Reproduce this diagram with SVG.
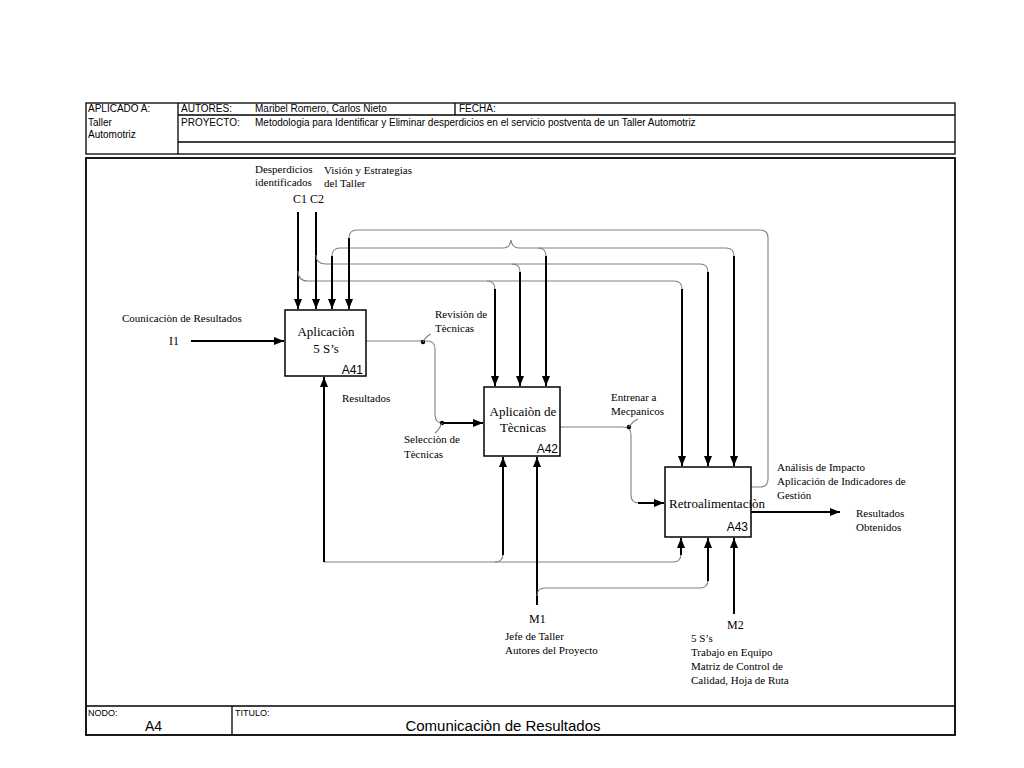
<svg xmlns="http://www.w3.org/2000/svg" width="1024" height="768" viewBox="0 0 1024 768">
<style>
.frame{fill:none;stroke:#000;stroke-width:1.3}
.box{fill:#fff;stroke:#000;stroke-width:1.5}
.hd{font-family:"Liberation Sans",Arial,sans-serif;font-size:10px;fill:#000}
.lbl{font-family:"Liberation Serif","Times New Roman",serif;font-size:11px;fill:#000}
.bt{font-family:"Liberation Serif","Times New Roman",serif;font-size:13px;fill:#000;text-anchor:middle}
.id{font-family:"Liberation Sans",Arial,sans-serif;font-size:12px;fill:#000;text-anchor:end}
.g{fill:none;stroke:#808080;stroke-width:1.1}
.kt{fill:none;stroke:#000;stroke-width:2;marker-end:url(#ah)}
</style>
<defs>
<marker id="ah" markerUnits="userSpaceOnUse" markerWidth="10" markerHeight="10" refX="10" refY="5" orient="auto">
<path d="M0,1 L10,5 L0,9 z" fill="#000"/>
</marker>
</defs>
<rect width="1024" height="768" fill="#fff"/>
<g id="header">
<rect class="frame" x="86" y="103" width="869" height="51"/>
<line class="frame" x1="178" y1="115" x2="955" y2="115"/>
<line class="frame" x1="178" y1="142" x2="955" y2="142"/>
<line class="frame" x1="178" y1="103" x2="178" y2="154"/>
<line class="frame" x1="455" y1="103" x2="455" y2="115"/>
<text class="hd" x="88" y="112">APLICADO A:</text>
<text class="hd" x="88" y="126">Taller</text>
<text class="hd" x="88" y="138">Automotriz</text>
<text class="hd" x="181" y="112">AUTORES:</text>
<text class="hd" x="255" y="112">Maribel Romero, Carlos Nieto</text>
<text class="hd" x="459" y="112">FECHA:</text>
<text class="hd" x="181" y="126">PROYECTO:</text>
<text class="hd" x="255" y="126">Metodologia para Identificar y Eliminar desperdicios en el servicio postventa de un Taller Automotriz</text>
</g>
<g id="main-frame">
<rect class="frame" x="86" y="158" width="869" height="577" style="stroke-width:1.8"/>
<line class="frame" x1="86" y1="706" x2="955" y2="706"/>
<line class="frame" x1="232" y1="706" x2="232" y2="735"/>
<text class="hd" x="88" y="716" style="font-size:9px">NODO:</text>
<text class="hd" x="145" y="731" style="font-size:14px">A4</text>
<text class="hd" x="235" y="716" style="font-size:9px">TITULO:</text>
<text class="hd" x="503" y="731" style="font-size:15px;text-anchor:middle">Comunicaciòn de Resultados</text>
</g>
<g id="connectors">
<path class="kt" d="M298,212 V309"/>
<path class="g" d="M298,271 Q298,281 308,281 H674 Q682,281 682,289"/>
<path class="g" d="M487,281 Q495,281 495,289"/>
<path class="kt" d="M316,212 V309"/>
<path class="g" d="M316,255 Q316,264 326,264 H700 Q708,264 708,272"/>
<path class="g" d="M512,264 Q520,264 520,272"/>
<path class="g" d="M332,256 Q332,248 340,248 H503 Q510,248 511,240 Q512,248 519,248 H726 Q734,248 734,256"/>
<path class="g" d="M538,248 Q546,248 546,256"/>
<path class="kt" d="M332,256 V309"/>
<path class="g" d="M751,487 H760 Q768,487 768,479 V238 Q768,230 760,230 H357 Q349,230 349,238"/>
<path class="kt" d="M349,238 V309"/>
<path class="kt" d="M495,289 V386"/>
<path class="kt" d="M520,272 V386"/>
<path class="kt" d="M546,256 V386"/>
<path class="kt" d="M682,289 V466"/>
<path class="kt" d="M708,272 V466"/>
<path class="kt" d="M734,256 V466"/>
<path class="kt" d="M191,341 H284"/>
<path class="g" d="M366,341 H427 Q435,341 435,349 V415 Q435,423 443,423"/>
<path class="kt" d="M442,423 H483"/>
<circle cx="423" cy="342" r="2.2" fill="#000"/>
<path class="g" d="M423,342 Q426,336 431,334"/>
<circle cx="442" cy="423" r="2.2" fill="#000"/>
<path class="g" d="M442,423 Q439,430 435,433"/>
<path class="g" d="M560,427 H623 Q631,427 631,435 V495 Q631,503 639,503"/>
<path class="kt" d="M638,503 H664"/>
<circle cx="629" cy="427" r="2.2" fill="#000"/>
<path class="g" d="M629,427 Q633,421 638,419"/>
<path class="kt" d="M751,512 H840"/>
<path class="g" d="M324,562 H673 Q681,562 681,554"/>
<path class="g" d="M495,562 Q503,562 503,554"/>
<path class="kt" d="M324,562 V377"/>
<path class="kt" d="M503,555 V457"/>
<path class="kt" d="M681,555 V538"/>
<path class="kt" d="M537,605 V457"/>
<path class="g" d="M537,596 Q537,588 545,588 H700 Q708,588 708,580"/>
<path class="kt" d="M708,581 V538"/>
<path class="kt" d="M734,614 V538"/>
</g>
<g id="A41">
<rect class="box" x="285" y="310" width="81" height="66"/>
<text class="bt" x="326" y="336">Aplicaciòn</text>
<text class="bt" x="326" y="353">5 S’s</text>
<text class="id" x="363" y="374">A41</text>
</g>
<g id="A42">
<rect class="box" x="484" y="387" width="76" height="69"/>
<text class="bt" x="523" y="416">Aplicaiòn de</text>
<text class="bt" x="523" y="432">Tècnicas</text>
<text class="id" x="558" y="453">A42</text>
</g>
<g id="A43">
<rect class="box" x="665" y="467" width="86" height="70"/>
<text class="bt" x="669" y="508" style="text-anchor:start">Retroalimentaciòn</text>
<text class="id" x="748" y="531">A43</text>
</g>
<g id="labels">
<text class="lbl" x="255" y="173">Desperdicios</text>
<text class="lbl" x="255" y="186">identificados</text>
<text class="lbl" x="324" y="174">Visión y Estrategias</text>
<text class="lbl" x="324" y="187">del Taller</text>
<text class="lbl" x="293" y="203" style="font-size:12px">C1 C2</text>
<text class="lbl" x="122" y="322">Counicaciòn de Resultados</text>
<text class="lbl" x="169" y="345" style="font-size:12px">I1</text>
<text class="lbl" x="435" y="318">Revisiòn de</text>
<text class="lbl" x="435" y="332">Tècnicas</text>
<text class="lbl" x="342" y="402">Resultados</text>
<text class="lbl" x="404" y="443">Selecciòn de</text>
<text class="lbl" x="404" y="458">Tècnicas</text>
<text class="lbl" x="611" y="401">Entrenar a</text>
<text class="lbl" x="611" y="415">Mecpanicos</text>
<text class="lbl" x="777" y="471">Análisis de Impacto</text>
<text class="lbl" x="777" y="485">Aplicación de Indicadores de</text>
<text class="lbl" x="777" y="499">Gestión</text>
<text class="lbl" x="856" y="517">Resultados</text>
<text class="lbl" x="856" y="531">Obtenidos</text>
<text class="lbl" x="529" y="623" style="font-size:12px">M1</text>
<text class="lbl" x="505" y="640">Jefe de Taller</text>
<text class="lbl" x="505" y="654">Autores del Proyecto</text>
<text class="lbl" x="727" y="629" style="font-size:12px">M2</text>
<text class="lbl" x="691" y="642">5 S’s</text>
<text class="lbl" x="691" y="656">Trabajo en Equipo</text>
<text class="lbl" x="691" y="670">Matriz de Control de</text>
<text class="lbl" x="691" y="684">Calidad, Hoja de Ruta</text>
</g>
</svg>
